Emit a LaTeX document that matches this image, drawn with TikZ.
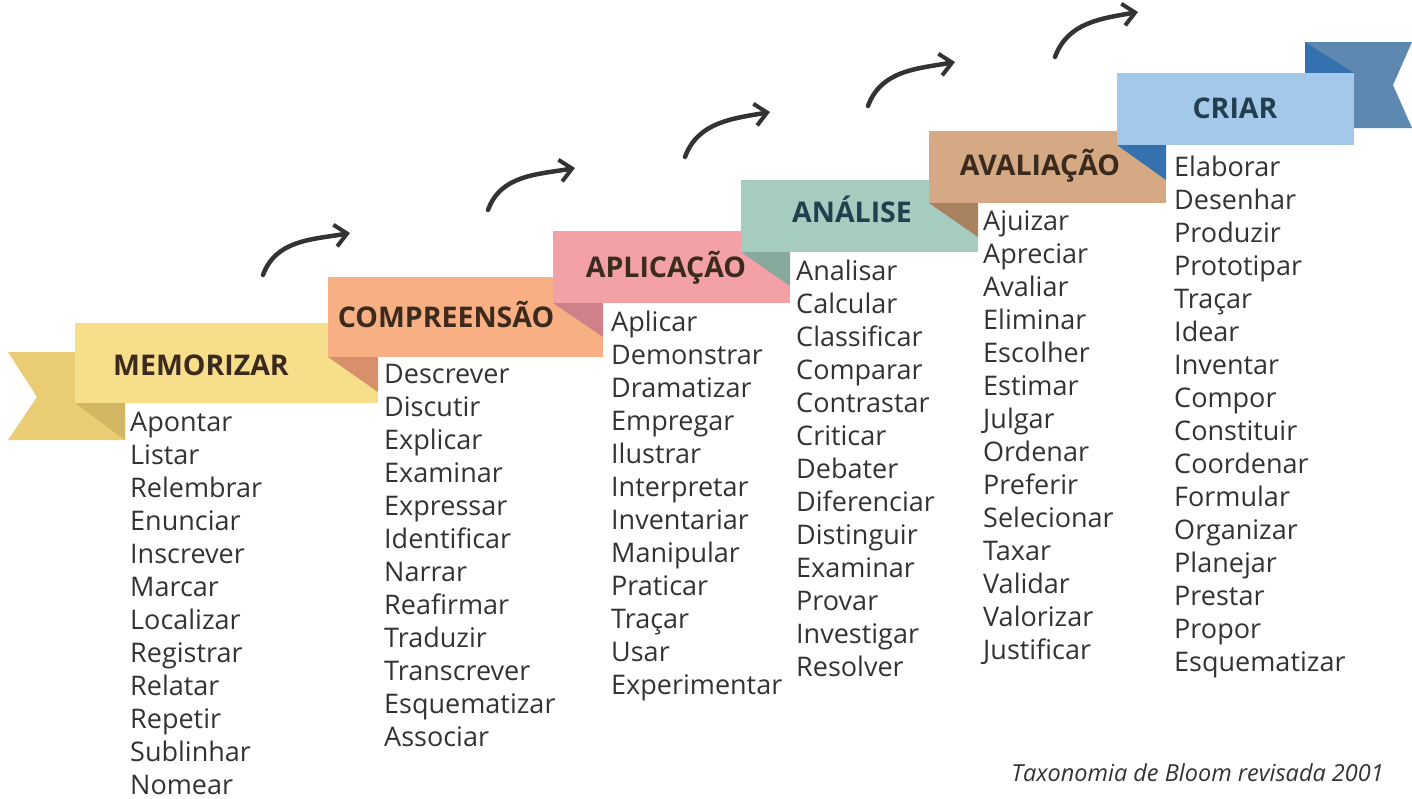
\documentclass[tikz,border=0pt]{standalone}
\usepackage{fontspec}
\setmainfont{Open Sans}
\usepackage{xcolor}
\usetikzlibrary{arrows.meta}

% ribbon colours
\definecolor{memMain}{HTML}{F7DE8A}
\definecolor{memTail}{HTML}{E9CC74}
\definecolor{memFold}{HTML}{D3B662}
\definecolor{comMain}{HTML}{F7AF83}
\definecolor{comFold}{HTML}{D98E6C}
\definecolor{aplMain}{HTML}{F3A1A6}
\definecolor{aplFold}{HTML}{CF8089}
\definecolor{anaMain}{HTML}{A5CCBE}
\definecolor{anaFold}{HTML}{86A99C}
\definecolor{avaMain}{HTML}{D4A983}
\definecolor{avaFold}{HTML}{A8825F}
\definecolor{criMain}{HTML}{A4C8EA}
\definecolor{criFold}{HTML}{3471AE}
\definecolor{criTail}{HTML}{5D88B0}
\definecolor{warmTxt}{HTML}{3B2A1E}
\definecolor{coolTxt}{HTML}{223F4F}
\definecolor{verbTxt}{HTML}{333333}

\begin{document}
\begin{tikzpicture}[x=1pt,y=1pt]
\tikzset{head/.style={font=\fontsize{28.5}{32}\selectfont\bfseries, inner sep=0pt, anchor=base},
  verbs/.style={align=left, anchor=base west, inner sep=0pt, text=verbTxt, font=\fontsize{27}{33}\selectfont},
  arr/.style={line width=4.5pt, line cap=round, -{Straight Barb[length=12pt,width=22pt,line width=4pt]}, draw=black!80}};
\useasboundingbox (0,0) rectangle (1412,-798);

% left tail and first ribbon
\fill[memTail] (8,-352) -- (125,-352) -- (125,-440) -- (8,-440) -- (37,-397) -- cycle;
\fill[memFold] (75,-403) -- (125,-403) -- (125,-440) -- cycle;
\fill[memMain] (75,-323) rectangle (378,-403);

% ribbons 2 to 6, each with its fold
\fill[comFold] (328,-357) -- (378,-357) -- (378,-392) -- cycle;
\fill[comMain] (328,-277) rectangle (603,-357);
\fill[aplFold] (553,-303) -- (603,-303) -- (603,-337) -- cycle;
\fill[aplMain] (553,-231) rectangle (790,-303);
\fill[anaFold] (741,-252) -- (790,-252) -- (790,-286) -- cycle;
\fill[anaMain] (741,-180) rectangle (978,-252);
\fill[avaFold] (929,-203) -- (978,-203) -- (978,-237) -- cycle;
\fill[avaMain] (929,-131) rectangle (1166,-203);
\fill[criTail] (1305,-42) -- (1412,-42) -- (1393,-85) -- (1412,-128) -- (1305,-128) -- cycle;
\fill[criFold] (1305,-42) -- (1354,-73) -- (1305,-73) -- cycle;
\fill[criFold] (1117,-145) -- (1166,-145) -- (1166,-180) -- cycle;
\fill[criMain] (1117,-73) rectangle (1354,-145);

% headings
\node[head, text=warmTxt] (memorizar) at (201,-375) {MEMORIZAR};
\node[head, text=warmTxt] (compreensao) at (446,-327) {COMPREENSÃO};
\node[head, text=warmTxt] (aplicacao) at (666,-277) {APLICAÇÃO};
\node[head, text=coolTxt] (analise) at (852,-222) {ANÁLISE};
\node[head, text=warmTxt] (avaliacao) at (1040,-175) {AVALIAÇÃO};
\node[head, text=coolTxt] (criar) at (1235,-118) {CRIAR};

% verb lists (placed by the baseline of their last line)
\node[verbs] (verbsMem) at (130,-794) {Apontar\\Listar\\Relembrar\\Enunciar\\Inscrever\\Marcar\\Localizar\\Registrar\\Relatar\\Repetir\\Sublinhar\\Nomear};
\node[verbs] (verbsCom) at (384,-746) {Descrever\\Discutir\\Explicar\\Examinar\\Expressar\\Identificar\\Narrar\\Reafirmar\\Traduzir\\Transcrever\\Esquematizar\\Associar};
\node[verbs] (verbsApl) at (611,-694) {Aplicar\\Demonstrar\\Dramatizar\\Empregar\\Ilustrar\\Interpretar\\Inventariar\\Manipular\\Praticar\\Traçar\\Usar\\Experimentar};
\node[verbs] (verbsAna) at (796,-676) {Analisar\\Calcular\\Classificar\\Comparar\\Contrastar\\Criticar\\Debater\\Diferenciar\\Distinguir\\Examinar\\Provar\\Investigar\\Resolver};
\node[verbs] (verbsAva) at (983,-659) {Ajuizar\\Apreciar\\Avaliar\\Eliminar\\Escolher\\Estimar\\Julgar\\Ordenar\\Preferir\\Selecionar\\Taxar\\Validar\\Valorizar\\Justificar};
\node[verbs] (verbsCri) at (1174,-671) {Elaborar\\Desenhar\\Produzir\\Prototipar\\Traçar\\Idear\\Inventar\\Compor\\Constituir\\Coordenar\\Formular\\Organizar\\Planejar\\Prestar\\Propor\\Esquematizar};

% step arrows
\coordinate (a1s) at (263,-275); \coordinate (a1e) at (350,-233);
\coordinate (a2s) at (488,-210); \coordinate (a2e) at (575,-168);
\coordinate (a3s) at (685,-157); \coordinate (a3e) at (770,-112);
\coordinate (a4s) at (868,-106); \coordinate (a4e) at (955,-62);
\coordinate (a5s) at (1055,-57); \coordinate (a5e) at (1138,-12);
\draw[arr] (a1s) to[out=70, in=190] (a1e);
\draw[arr] (a2s) to[out=70, in=190] (a2e);
\draw[arr] (a3s) to[out=70, in=190] (a3e);
\draw[arr] (a4s) to[out=70, in=190] (a4e);
\draw[arr] (a5s) to[out=70, in=190] (a5e);

\node[anchor=base east, inner sep=0pt, text=verbTxt, font=\fontsize{23.5}{26}\selectfont\itshape] (credit) at (1384,-781) {Taxonomia de Bloom revisada 2001};
\end{tikzpicture}
\end{document}
